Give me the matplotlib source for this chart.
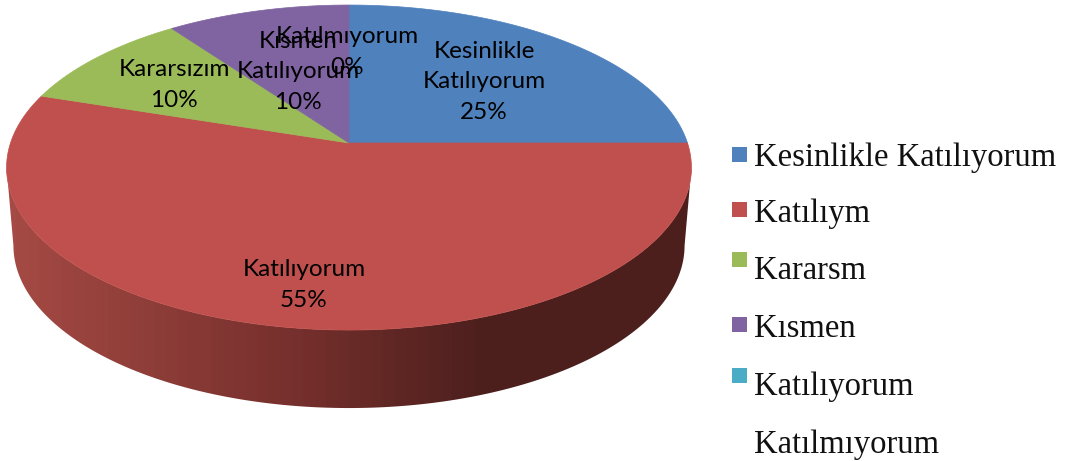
import numpy as np
import matplotlib
matplotlib.use('Agg')
import matplotlib.pyplot as plt
from matplotlib.colors import LinearSegmentedColormap
from matplotlib.patches import Polygon, Rectangle

categories = ['Kesinlikle\nKatılıyorum', 'Katılıyorum', 'Kararsızım', 'Kısmen\nKatılıyorum', 'Katılmıyorum']
values = [25, 55, 10, 10, 0]
colors = ['#4F81BD', '#C0504D', '#9BBB59', '#8064A2', '#4BACC6']
legend_labels = ['Kesinlikle Katılıyorum', 'Katılıym', 'Kararsm', 'Kısmen', 'Katılıyorum', 'Katılmıyorum']

# pie geometry in pixels, top is further away so it goes through a perspective map
cx, cy = 349, 143
rx, ry = 338.5, 158.8
k = 0.151
depth = 78
side_scale = 0.98


def project(theta, scale=1.0, shift=0.0):
    # theta clockwise from 12 o'clock
    u, v = np.sin(theta), np.cos(theta)
    d = 1 + k * v
    return cx + scale * rx * u / d, cy - ry * v / d + shift


fig, ax = plt.subplots(figsize=(10.72, 4.61), dpi=100)
ax.set_position([0, 0, 1, 1])
ax.set_xlim(0, 1072)
ax.set_ylim(461, 0)
ax.axis('off')

# side of the pie with dark gradient
t0 = np.arccos(-k)
t = np.linspace(t0, 2 * np.pi - t0, 300)
xt, yt = project(t)
xb, yb = project(t, side_scale, depth)
side = Polygon(np.r_[np.c_[xt, yt], np.c_[xb, yb][::-1]], closed=True, fc='none', ec='none')
ax.add_patch(side)
side_cmap = LinearSegmentedColormap.from_list('side', [(0, '#A54A44'), (0.43, '#752F2C'), (0.70, '#4C1F1D'), (1, '#4C1F1D')])
grad = np.linspace(0, 1, 60).reshape(1, -1)
im = ax.imshow(grad, extent=[5, 693, 461, 0], cmap=side_cmap, aspect='auto', zorder=1)
im.set_clip_path(side)
ax.set_xlim(0, 1072)
ax.set_ylim(461, 0)

# top of the pie
fracs = np.cumsum([0] + values) / sum(values)
for i, c in enumerate(colors):
    if values[i] == 0:
        continue
    th = np.linspace(fracs[i], fracs[i + 1], 200) * 2 * np.pi
    x, y = project(th)
    ax.fill(np.r_[cx, x], np.r_[cy, y], color=c, lw=0.5, zorder=2)

# data labels
label_pos = [(484, 82), (304, 285), (174, 85), (298, 72), (347, 52)]
for name, val, (lx, ly) in zip(categories, values, label_pos):
    ax.text(lx, ly, f'{name}\n{val}%', ha='center', va='center', fontsize=17.5,
            family='Lato', color='black', linespacing=1.55, zorder=3)

# legend
square_y = [147, 202, 252, 317, 368]
text_y = [166, 222, 279, 337, 395, 453]
for c, sy in zip(colors, square_y):
    ax.add_patch(Rectangle((732, sy), 15, 15, fc=c, ec='none', zorder=3))
for lab, ty in zip(legend_labels, text_y):
    ax.text(754, ty, lab, ha='left', va='baseline', fontsize=23.5,
            family='Liberation Serif', color='#111111', zorder=3)

plt.savefig('out.png', dpi=100)
